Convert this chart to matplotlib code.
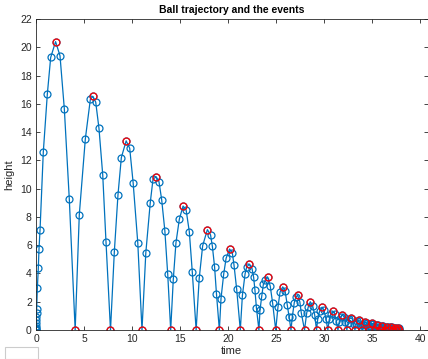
import matplotlib
matplotlib.use('Agg')
import matplotlib.pyplot as plt
from matplotlib.patches import Rectangle

plt.rcParams['font.family'] = ['Liberation Sans', 'DejaVu Sans']

# solver output (time, height), one bounce per line
t = [0, 0.003, 0.008, 0.015, 0.025, 0.035, 0.048, 0.061, 0.077, 0.14, 0.24, 0.31, 0.42, 0.76, 1.18, 1.53, 2.04, 2.5, 2.95, 3.47, 4.08,
     4.51, 5.14, 5.66, 5.92, 6.22, 6.56, 6.95, 7.29, 7.76,
     8.16, 8.54, 8.89, 9.39, 9.76, 10.12, 10.6, 11.04,
     11.44, 11.9, 12.19, 12.52, 12.81, 13.09, 13.42, 13.72, 14.03,
     14.3, 14.58, 14.93, 15.32, 15.64, 15.97, 16.28, 16.68,
     17.0, 17.36, 17.85, 18.18, 18.37, 18.6, 18.8, 19.1,
     19.27, 19.55, 19.8, 20.16, 20.45, 20.62, 20.9, 21.28,
     21.5, 21.78, 21.95, 22.22, 22.5, 22.67, 22.8, 22.96, 23.22,
     23.33, 23.52, 23.68, 23.9, 24.12, 24.4, 24.65, 24.97,
     25.2, 25.42, 25.7, 25.94, 26.18, 26.36, 26.56,
     26.7, 26.9, 27.05, 27.25, 27.48, 27.63, 27.97,
     28.2, 28.37, 28.57, 28.82, 29.03, 29.22,
     29.35, 29.55, 29.8, 30.0, 30.2, 30.4,
     30.55, 30.72, 30.93, 31.1, 31.28, 31.45,
     31.58, 31.75, 31.92, 32.08, 32.22, 32.38,
     32.5, 32.65, 32.8, 32.95, 33.08, 33.22,
     33.33, 33.46, 33.6, 33.74, 33.86, 33.98,
     34.08, 34.2, 34.32, 34.45, 34.56, 34.67,
     34.76, 34.87, 34.98, 35.09, 35.19, 35.28,
     35.36, 35.46, 35.56, 35.66, 35.75, 35.83,
     35.9, 36.0, 36.08, 36.17, 36.25, 36.33,
     36.4, 36.48, 36.55, 36.63, 36.7, 36.77,
     36.83, 36.9, 36.97, 37.04, 37.11, 37.17,
     37.23, 37.29, 37.35, 37.41, 37.47, 37.53,
     37.58, 37.64, 37.7, 37.76, 37.81, 37.86]
h = [0, 0.06, 0.16, 0.3, 0.5, 0.7, 0.95, 1.2, 1.5, 2.95, 4.36, 5.7, 7.07, 12.59, 16.69, 19.28, 20.4, 19.4, 15.65, 9.24, 0,
     8.16, 13.53, 16.31, 16.53, 16.12, 14.26, 10.98, 6.25, 0,
     5.54, 9.57, 12.2, 13.38, 12.86, 10.4, 6.18, 0,
     5.47, 9.0, 10.68, 10.83, 10.49, 9.22, 7.03, 3.95, 0,
     3.58, 6.18, 7.84, 8.77, 8.48, 6.95, 4.1, 0,
     3.65, 5.96, 7.1, 6.73, 5.93, 4.48, 2.54, 0,
     2.22, 3.95, 5.07, 5.73, 5.45, 4.62, 2.9, 0,
     2.45, 3.98, 4.45, 4.66, 4.35, 3.73, 2.86, 1.57, 0,
     1.39, 2.42, 3.22, 3.55, 3.76, 3.1, 1.89, 0,
     1.6, 2.68, 3.05, 2.78, 1.75, 0.95, 0,
     0.94, 1.93, 2.3, 2.47, 2.0, 1.22, 0,
     1.22, 1.65, 2.0, 1.7, 1.06, 0,
     0.8, 1.35, 1.62, 1.4, 0.8, 0,
     0.75, 1.15, 1.31, 1.15, 0.65, 0,
     0.55, 0.95, 1.06, 0.93, 0.55, 0,
     0.5, 0.78, 0.86, 0.78, 0.45, 0,
     0.4, 0.63, 0.7, 0.62, 0.38, 0,
     0.35, 0.52, 0.57, 0.5, 0.3, 0,
     0.28, 0.42, 0.46, 0.41, 0.25, 0,
     0.22, 0.34, 0.37, 0.33, 0.2, 0,
     0.18, 0.28, 0.3, 0.27, 0.16, 0,
     0.15, 0.22, 0.24, 0.21, 0.13, 0,
     0.12, 0.18, 0.2, 0.18, 0.11, 0,
     0.1, 0.14, 0.16, 0.14, 0.09, 0,
     0.08, 0.12, 0.13, 0.11, 0.07, 0]

# events: apex of each bounce and each touchdown
te = [2.04, 4.08, 5.92, 7.76, 9.39, 11.04, 12.52, 14.03, 15.32, 16.68, 17.85, 19.1, 20.16, 21.28,
      22.22, 23.22, 24.12, 24.97, 25.7, 26.56, 27.25, 27.97, 28.57, 29.22, 29.8, 30.4, 30.93, 31.45,
      31.92, 32.38, 32.8, 33.22, 33.6, 33.98, 34.32, 34.67, 34.98, 35.28, 35.56, 35.83, 36.08, 36.33,
      36.55, 36.77, 36.97, 37.17, 37.35, 37.53, 37.7, 37.86]
ye = [20.4, 0, 16.53, 0, 13.38, 0, 10.83, 0, 8.77, 0, 7.1, 0, 5.73, 0,
      4.66, 0, 3.76, 0, 3.05, 0, 2.47, 0, 2.0, 0, 1.62, 0, 1.31, 0,
      1.06, 0, 0.86, 0, 0.7, 0, 0.57, 0, 0.46, 0, 0.37, 0, 0.3, 0,
      0.24, 0, 0.2, 0, 0.16, 0, 0.13, 0]

fig = plt.figure(figsize=(4.28, 3.59), dpi=100)
ax = fig.add_axes([36 / 428, 29 / 359, 391.5 / 428, 311 / 359])

ax.plot(t, h, '-o', color='#0072BD', lw=0.9, ms=5, mfc='none', mew=0.9)
ax.plot(te, ye, 'o', color='red', ms=5, mfc='none', mew=0.9)

ax.set_xlim(0, 40.78)
ax.set_ylim(0, 22)
ax.set_xticks(range(0, 41, 5))
ax.set_yticks(range(0, 23, 2))
ax.tick_params(direction='in', top=True, right=True, length=3, width=0.6,
               labelsize=7.5, colors='#262626', pad=3)
for s in ax.spines.values():
    s.set_color('#262626')
    s.set_linewidth(0.6)

ax.set_title('Ball trajectory and the events', fontsize=7.5, fontweight='bold', pad=4)
ax.set_xlabel('time', fontsize=8, labelpad=1, color='#262626')
ax.set_ylabel('height', fontsize=8, labelpad=4, color='#262626')

fig.patches.append(Rectangle((5 / 428, 0), 33 / 428, 12 / 359, transform=fig.transFigure,
                             facecolor='white', edgecolor='#cccccc', lw=0.8))

fig.savefig('out.png', dpi=100)
